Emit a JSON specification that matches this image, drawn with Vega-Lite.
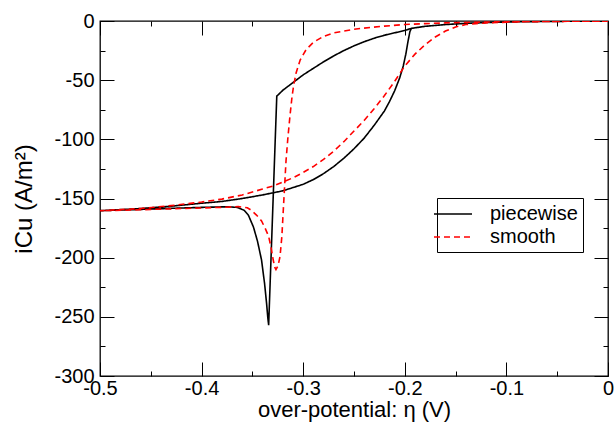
{
  "$schema": "https://vega.github.io/schema/vega-lite/v6.json",
  "autosize": "none",
  "width": 508,
  "height": 355,
  "padding": {"left": 100, "top": 21, "right": 6, "bottom": 46},
  "background": "white",
  "config": {
    "font": "Liberation Sans",
    "view": {"stroke": "black", "strokeWidth": 1.3},
    "axis": {"grid": false, "domain": false, "tickColor": "black", "tickWidth": 1, "labelColor": "black", "titleColor": "black", "labelFontSize": 20, "titleFontSize": 24, "titleFontWeight": "normal", "labelFlush": false, "labelOverlap": false}
  },
  "data": {
    "values": [
      {"series": "piecewise", "idx": 1, "eta": 0, "i": -0.1},
      {"series": "piecewise", "idx": 2, "eta": -0.05, "i": -0.3},
      {"series": "piecewise", "idx": 3, "eta": -0.08, "i": -0.5},
      {"series": "piecewise", "idx": 4, "eta": -0.1, "i": -0.8},
      {"series": "piecewise", "idx": 5, "eta": -0.12, "i": -1.3},
      {"series": "piecewise", "idx": 6, "eta": -0.14, "i": -2},
      {"series": "piecewise", "idx": 7, "eta": -0.16, "i": -3},
      {"series": "piecewise", "idx": 8, "eta": -0.18, "i": -4.5},
      {"series": "piecewise", "idx": 9, "eta": -0.1935, "i": -6.2},
      {"series": "piecewise", "idx": 10, "eta": -0.195, "i": -9},
      {"series": "piecewise", "idx": 11, "eta": -0.197, "i": -18},
      {"series": "piecewise", "idx": 12, "eta": -0.199, "i": -28},
      {"series": "piecewise", "idx": 13, "eta": -0.2015, "i": -38},
      {"series": "piecewise", "idx": 14, "eta": -0.205, "i": -48},
      {"series": "piecewise", "idx": 15, "eta": -0.21, "i": -59},
      {"series": "piecewise", "idx": 16, "eta": -0.215, "i": -68},
      {"series": "piecewise", "idx": 17, "eta": -0.22, "i": -76},
      {"series": "piecewise", "idx": 18, "eta": -0.23, "i": -88},
      {"series": "piecewise", "idx": 19, "eta": -0.24, "i": -99},
      {"series": "piecewise", "idx": 20, "eta": -0.25, "i": -108},
      {"series": "piecewise", "idx": 21, "eta": -0.26, "i": -116},
      {"series": "piecewise", "idx": 22, "eta": -0.27, "i": -123},
      {"series": "piecewise", "idx": 23, "eta": -0.28, "i": -129},
      {"series": "piecewise", "idx": 24, "eta": -0.29, "i": -134},
      {"series": "piecewise", "idx": 25, "eta": -0.3, "i": -138},
      {"series": "piecewise", "idx": 26, "eta": -0.32, "i": -143.5},
      {"series": "piecewise", "idx": 27, "eta": -0.34, "i": -147},
      {"series": "piecewise", "idx": 28, "eta": -0.36, "i": -150},
      {"series": "piecewise", "idx": 29, "eta": -0.38, "i": -152.5},
      {"series": "piecewise", "idx": 30, "eta": -0.4, "i": -154},
      {"series": "piecewise", "idx": 31, "eta": -0.43, "i": -156.5},
      {"series": "piecewise", "idx": 32, "eta": -0.46, "i": -158.5},
      {"series": "piecewise", "idx": 33, "eta": -0.5, "i": -160.3},
      {"series": "piecewise", "idx": 34, "eta": -0.47, "i": -159.5},
      {"series": "piecewise", "idx": 35, "eta": -0.44, "i": -158.6},
      {"series": "piecewise", "idx": 36, "eta": -0.4, "i": -157.5},
      {"series": "piecewise", "idx": 37, "eta": -0.375, "i": -157},
      {"series": "piecewise", "idx": 38, "eta": -0.365, "i": -157.5},
      {"series": "piecewise", "idx": 39, "eta": -0.358, "i": -160},
      {"series": "piecewise", "idx": 40, "eta": -0.354, "i": -164},
      {"series": "piecewise", "idx": 41, "eta": -0.349, "i": -174},
      {"series": "piecewise", "idx": 42, "eta": -0.345, "i": -186},
      {"series": "piecewise", "idx": 43, "eta": -0.341, "i": -202},
      {"series": "piecewise", "idx": 44, "eta": -0.338, "i": -222},
      {"series": "piecewise", "idx": 45, "eta": -0.336, "i": -239},
      {"series": "piecewise", "idx": 46, "eta": -0.3348, "i": -251},
      {"series": "piecewise", "idx": 47, "eta": -0.334, "i": -257},
      {"series": "piecewise", "idx": 48, "eta": -0.326, "i": -63.5},
      {"series": "piecewise", "idx": 49, "eta": -0.32, "i": -58.5},
      {"series": "piecewise", "idx": 50, "eta": -0.31, "i": -52},
      {"series": "piecewise", "idx": 51, "eta": -0.3, "i": -45.5},
      {"series": "piecewise", "idx": 52, "eta": -0.29, "i": -40},
      {"series": "piecewise", "idx": 53, "eta": -0.28, "i": -34.5},
      {"series": "piecewise", "idx": 54, "eta": -0.27, "i": -29.5},
      {"series": "piecewise", "idx": 55, "eta": -0.26, "i": -25},
      {"series": "piecewise", "idx": 56, "eta": -0.25, "i": -21},
      {"series": "piecewise", "idx": 57, "eta": -0.24, "i": -17.5},
      {"series": "piecewise", "idx": 58, "eta": -0.23, "i": -14.5},
      {"series": "piecewise", "idx": 59, "eta": -0.22, "i": -12},
      {"series": "piecewise", "idx": 60, "eta": -0.21, "i": -10},
      {"series": "piecewise", "idx": 61, "eta": -0.2, "i": -8},
      {"series": "piecewise", "idx": 62, "eta": -0.1935, "i": -6.2},
      {"series": "piecewise", "idx": 63, "eta": -0.18, "i": -4.5},
      {"series": "piecewise", "idx": 64, "eta": -0.16, "i": -3},
      {"series": "piecewise", "idx": 65, "eta": -0.14, "i": -2},
      {"series": "piecewise", "idx": 66, "eta": -0.12, "i": -1.3},
      {"series": "piecewise", "idx": 67, "eta": -0.1, "i": -0.8},
      {"series": "piecewise", "idx": 68, "eta": -0.05, "i": -0.3},
      {"series": "piecewise", "idx": 69, "eta": 0, "i": -0.1},
      {"series": "smooth", "idx": 1, "eta": 0, "i": -0.1},
      {"series": "smooth", "idx": 2, "eta": -0.05, "i": -0.3},
      {"series": "smooth", "idx": 3, "eta": -0.08, "i": -0.6},
      {"series": "smooth", "idx": 4, "eta": -0.1, "i": -1},
      {"series": "smooth", "idx": 5, "eta": -0.12, "i": -1.6},
      {"series": "smooth", "idx": 6, "eta": -0.13, "i": -2.2},
      {"series": "smooth", "idx": 7, "eta": -0.14, "i": -3},
      {"series": "smooth", "idx": 8, "eta": -0.15, "i": -5},
      {"series": "smooth", "idx": 9, "eta": -0.16, "i": -8.5},
      {"series": "smooth", "idx": 10, "eta": -0.17, "i": -13.5},
      {"series": "smooth", "idx": 11, "eta": -0.18, "i": -20},
      {"series": "smooth", "idx": 12, "eta": -0.19, "i": -28},
      {"series": "smooth", "idx": 13, "eta": -0.2, "i": -38},
      {"series": "smooth", "idx": 14, "eta": -0.21, "i": -51},
      {"series": "smooth", "idx": 15, "eta": -0.22, "i": -63},
      {"series": "smooth", "idx": 16, "eta": -0.23, "i": -74},
      {"series": "smooth", "idx": 17, "eta": -0.24, "i": -84},
      {"series": "smooth", "idx": 18, "eta": -0.25, "i": -93},
      {"series": "smooth", "idx": 19, "eta": -0.26, "i": -102},
      {"series": "smooth", "idx": 20, "eta": -0.27, "i": -110},
      {"series": "smooth", "idx": 21, "eta": -0.28, "i": -117},
      {"series": "smooth", "idx": 22, "eta": -0.29, "i": -123},
      {"series": "smooth", "idx": 23, "eta": -0.3, "i": -128},
      {"series": "smooth", "idx": 24, "eta": -0.31, "i": -132.5},
      {"series": "smooth", "idx": 25, "eta": -0.32, "i": -136},
      {"series": "smooth", "idx": 26, "eta": -0.33, "i": -139.5},
      {"series": "smooth", "idx": 27, "eta": -0.34, "i": -142},
      {"series": "smooth", "idx": 28, "eta": -0.35, "i": -144.5},
      {"series": "smooth", "idx": 29, "eta": -0.36, "i": -147},
      {"series": "smooth", "idx": 30, "eta": -0.38, "i": -150.5},
      {"series": "smooth", "idx": 31, "eta": -0.4, "i": -153},
      {"series": "smooth", "idx": 32, "eta": -0.43, "i": -156},
      {"series": "smooth", "idx": 33, "eta": -0.46, "i": -158.5},
      {"series": "smooth", "idx": 34, "eta": -0.5, "i": -160.3},
      {"series": "smooth", "idx": 35, "eta": -0.46, "i": -159.5},
      {"series": "smooth", "idx": 36, "eta": -0.42, "i": -158.5},
      {"series": "smooth", "idx": 37, "eta": -0.38, "i": -157.5},
      {"series": "smooth", "idx": 38, "eta": -0.364, "i": -156.8},
      {"series": "smooth", "idx": 39, "eta": -0.355, "i": -157.8},
      {"series": "smooth", "idx": 40, "eta": -0.351, "i": -160},
      {"series": "smooth", "idx": 41, "eta": -0.346, "i": -164},
      {"series": "smooth", "idx": 42, "eta": -0.341, "i": -169},
      {"series": "smooth", "idx": 43, "eta": -0.3375, "i": -175},
      {"series": "smooth", "idx": 44, "eta": -0.334, "i": -182},
      {"series": "smooth", "idx": 45, "eta": -0.3315, "i": -192},
      {"series": "smooth", "idx": 46, "eta": -0.3295, "i": -202},
      {"series": "smooth", "idx": 47, "eta": -0.328, "i": -208},
      {"series": "smooth", "idx": 48, "eta": -0.3268, "i": -210},
      {"series": "smooth", "idx": 49, "eta": -0.3248, "i": -207},
      {"series": "smooth", "idx": 50, "eta": -0.3228, "i": -199},
      {"series": "smooth", "idx": 51, "eta": -0.321, "i": -182},
      {"series": "smooth", "idx": 52, "eta": -0.3196, "i": -160},
      {"series": "smooth", "idx": 53, "eta": -0.318, "i": -135},
      {"series": "smooth", "idx": 54, "eta": -0.3169, "i": -118},
      {"series": "smooth", "idx": 55, "eta": -0.315, "i": -98},
      {"series": "smooth", "idx": 56, "eta": -0.313, "i": -80},
      {"series": "smooth", "idx": 57, "eta": -0.311, "i": -64},
      {"series": "smooth", "idx": 58, "eta": -0.3095, "i": -55},
      {"series": "smooth", "idx": 59, "eta": -0.307, "i": -44},
      {"series": "smooth", "idx": 60, "eta": -0.303, "i": -33},
      {"series": "smooth", "idx": 61, "eta": -0.297, "i": -24},
      {"series": "smooth", "idx": 62, "eta": -0.29, "i": -18},
      {"series": "smooth", "idx": 63, "eta": -0.28, "i": -13},
      {"series": "smooth", "idx": 64, "eta": -0.27, "i": -10},
      {"series": "smooth", "idx": 65, "eta": -0.25, "i": -7},
      {"series": "smooth", "idx": 66, "eta": -0.24, "i": -6},
      {"series": "smooth", "idx": 67, "eta": -0.22, "i": -4.3},
      {"series": "smooth", "idx": 68, "eta": -0.2, "i": -3},
      {"series": "smooth", "idx": 69, "eta": -0.18, "i": -2.2},
      {"series": "smooth", "idx": 70, "eta": -0.16, "i": -1.6},
      {"series": "smooth", "idx": 71, "eta": -0.13, "i": -1},
      {"series": "smooth", "idx": 72, "eta": -0.1, "i": -0.6},
      {"series": "smooth", "idx": 73, "eta": -0.05, "i": -0.3},
      {"series": "smooth", "idx": 74, "eta": 0, "i": -0.1}
    ]
  },
  "layer": [
    {
      "mark": {"type": "line", "strokeWidth": 1.6, "clip": true},
      "encoding": {
        "x": {
          "field": "eta", "type": "quantitative",
          "scale": {"domain": [-0.5, 0], "nice": false, "zero": false},
          "axis": {
            "orient": "bottom",
            "title": "over-potential: η (V)",
            "titleFontSize": 22,
            "values": [-0.5, -0.45, -0.4, -0.35, -0.3, -0.25, -0.2, -0.15, -0.1, -0.05, 0],
            "labelExpr": "abs(datum.value*10 - round(datum.value*10)) < 1e-6 ? '' + datum.value : ''",
            "tickSize": {"condition": {"test": "abs(datum.value*10 - round(datum.value*10)) < 1e-6", "value": -14}, "value": -5},
            "labelPadding": 16,
            "titlePadding": -7.5
          }
        },
        "y": {
          "field": "i", "type": "quantitative",
          "scale": {"domain": [-300, 0], "nice": false, "zero": false},
          "axis": {
            "orient": "left",
            "title": "iCu   (A/m²)",
            "values": [0, -25, -50, -75, -100, -125, -150, -175, -200, -225, -250, -275, -300],
            "labelExpr": "datum.value % 50 == 0 ? '' + datum.value : ''",
            "tickSize": {"condition": {"test": "datum.value % 50 == 0", "value": -14}, "value": -5},
            "labelPadding": 20,
            "titlePadding": 17
          }
        },
        "order": {"field": "idx", "type": "quantitative"},
        "color": {
          "field": "series", "type": "nominal",
          "scale": {"domain": ["piecewise", "smooth"], "range": ["#000000", "#ff0000"]},
          "legend": {
            "title": null, "orient": "none", "legendX": 337, "legendY": 177,
            "symbolType": "M-1.9,0H1.9", "symbolSize": 400, "symbolStrokeWidth": 1.6, "symbolFillColor": "transparent",
            "labelFontSize": 20, "labelOffset": 26, "labelColor": "black",
            "fillColor": "white", "strokeColor": "black", "padding": 5, "rowPadding": 2
          }
        },
        "strokeDash": {
          "field": "series", "type": "nominal",
          "scale": {"domain": ["piecewise", "smooth"], "range": [[1, 0], [6, 4]]},
          "legend": {
            "title": null, "orient": "none", "legendX": 337, "legendY": 177,
            "symbolType": "M-1.9,0H1.9", "symbolSize": 400, "symbolStrokeWidth": 1.6, "symbolFillColor": "transparent",
            "labelFontSize": 20, "labelOffset": 26, "labelColor": "black",
            "fillColor": "white", "strokeColor": "black", "padding": 5, "rowPadding": 2
          }
        }
      }
    },
    {
      "mark": {"type": "line", "opacity": 0},
      "encoding": {
        "x": {
          "field": "eta", "type": "quantitative",
          "axis": {
            "orient": "top", "title": null, "labels": false,
            "values": [-0.5, -0.45, -0.4, -0.35, -0.3, -0.25, -0.2, -0.15, -0.1, -0.05, 0],
            "tickSize": {"condition": {"test": "abs(datum.value*10 - round(datum.value*10)) < 1e-6", "value": -14}, "value": -5}
          }
        },
        "y": {
          "field": "i", "type": "quantitative",
          "axis": {
            "orient": "right", "title": null, "labels": false,
            "values": [0, -25, -50, -75, -100, -125, -150, -175, -200, -225, -250, -275, -300],
            "tickSize": {"condition": {"test": "datum.value % 50 == 0", "value": -14}, "value": -5}
          }
        }
      }
    }
  ],
  "resolve": {"axis": {"x": "independent", "y": "independent"}}
}
